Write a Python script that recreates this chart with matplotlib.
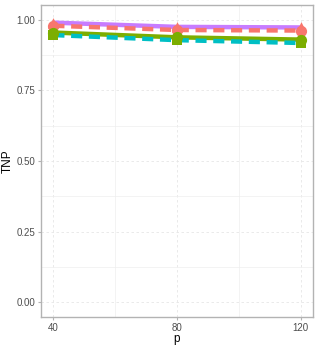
import matplotlib
matplotlib.use("Agg")
import matplotlib.pyplot as plt
from matplotlib.ticker import MultipleLocator

# data
p = [40, 80, 120]
purple = [0.990, 0.975, 0.973]
salmon = [0.979, 0.964, 0.962]
green = [0.955, 0.938, 0.930]
cyan = [0.946, 0.928, 0.918]

plt.rcParams['font.family'] = ['Liberation Sans', 'DejaVu Sans']

fig = plt.figure(figsize=(3.19, 3.48), dpi=100)
ax = fig.add_axes([41 / 319, 31 / 348, 272 / 319, 312 / 348])

ax.plot(p, purple, color='#C77CFF', lw=3.2, solid_capstyle='butt')
ax.plot(p, salmon, color='#F8766D', lw=3.2, ls=(0, (2.5, 1.5)))
ax.plot(p, green, color='#7CAE00', lw=3.2, solid_capstyle='butt')
ax.plot(p, cyan, color='#00BFC4', lw=3.2, ls=(0, (2.5, 1.5)))

ax.scatter(p, purple, marker='^', s=60, color='#F8766D', zorder=5, lw=0)
ax.scatter(p, salmon, marker='o', s=65, color='#F8766D', zorder=5, lw=0)
ax.scatter(p, cyan, marker='s', s=50, color='#7CAE00', zorder=5, lw=0)
ax.scatter(p, green, marker='o', s=65, color='#7CAE00', zorder=5, lw=0)

ax.set_xlim(36, 124)
ax.set_ylim(-0.0525, 1.0525)
ax.set_xticks(p)
ax.set_yticks([0, 0.25, 0.5, 0.75, 1.0])
ax.set_yticklabels(['0.00', '0.25', '0.50', '0.75', '1.00'])
ax.xaxis.set_minor_locator(MultipleLocator(20))
ax.yaxis.set_minor_locator(MultipleLocator(0.125))
ax.grid(which='major', color='#e6e6e6', ls=(0, (3, 3)), lw=0.6)
ax.grid(which='minor', color='#eeeeee', ls='-', lw=0.5)
ax.set_axisbelow(True)
for s in ax.spines.values():
    s.set_color('#b3b3b3')
    s.set_linewidth(1.0)
ax.tick_params(which='both', length=2, color='#b3b3b3', labelsize=7, labelcolor='#4d4d4d', pad=2)
ax.tick_params(which='minor', length=0)
ax.set_xlabel('p', fontsize=8.5, labelpad=0)
ax.set_ylabel('TNP', fontsize=8.5, labelpad=2)

fig.savefig('out.png', dpi=100)
